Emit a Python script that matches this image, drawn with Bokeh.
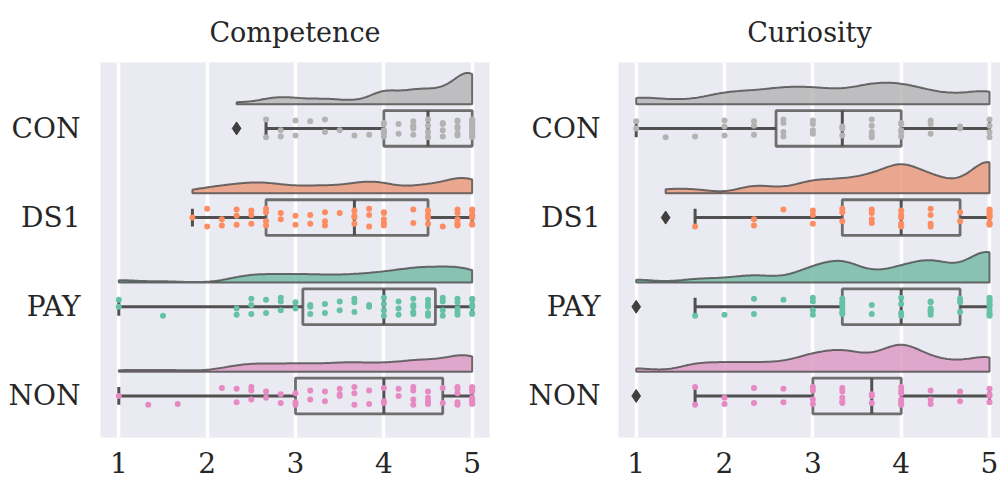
import numpy as np
from bokeh.plotting import figure
from bokeh.layouts import row
from bokeh.models import Range1d, FixedTicker
from bokeh.embed import file_html
from bokeh.resources import INLINE

# ---------------- data ----------------
groups = ["CON", "DS1", "PAY", "NON"]
x_ticks = [1, 2, 3, 4, 5]

# Competence: answer levels in steps of 1/6; counts of participants per level
competence_levels = [6/6, 7/6, 8/6, 9/6, 10/6, 11/6, 12/6, 13/6, 14/6, 15/6, 16/6, 17/6,
                     18/6, 19/6, 20/6, 21/6, 22/6, 23/6, 24/6, 25/6, 26/6, 27/6, 28/6, 29/6, 30/6]
competence_CON = [0, 0, 0, 0, 0, 0, 0, 0, 1, 0, 2, 2, 2, 1, 2, 1, 1, 1, 6, 2, 5, 4, 4, 6, 15]
competence_DS1 = [0, 0, 0, 0, 0, 1, 2, 2, 3, 3, 4, 2, 2, 2, 3, 1, 4, 3, 5, 0, 2, 4, 1, 6, 7]
competence_PAY = [2, 0, 0, 1, 0, 0, 0, 0, 2, 3, 2, 3, 2, 3, 2, 2, 3, 2, 4, 3, 5, 5, 4, 5, 6]
competence_NON = [1, 0, 1, 0, 1, 0, 0, 1, 2, 3, 2, 2, 3, 2, 2, 3, 3, 2, 3, 2, 4, 4, 2, 5, 9]

# Curiosity: answer levels in steps of 1/3; counts per level
curiosity_levels = [3/3, 4/3, 5/3, 6/3, 7/3, 8/3, 9/3, 10/3, 11/3, 12/3, 13/3, 14/3, 15/3]
curiosity_CON = [2, 1, 1, 3, 3, 4, 4, 3, 5, 5, 3, 2, 4]
curiosity_DS1 = [0, 1, 1, 0, 2, 1, 3, 3, 4, 7, 4, 2, 9]
curiosity_PAY = [1, 0, 1, 1, 2, 1, 4, 6, 2, 4, 6, 3, 10]
curiosity_NON = [1, 0, 2, 2, 2, 2, 4, 5, 3, 7, 3, 2, 4]

# ---------------- style ----------------
point_colors = {"CON": "#b3b3b3", "DS1": "#fc8d62", "PAY": "#66c2a5", "NON": "#e78ac3"}
cloud_colors = {"CON": "#b3b3b3", "DS1": "#e99675", "PAY": "#71b6a1", "NON": "#db96c0"}
FONT = "DejaVu Serif"
TEXT = "#262626"
BG = "#eaeaf2"
BOX_HALF = 0.2
CAP_HALF = 0.1
CLOUD_OFFSET = 0.272
CLOUD_MAX = 0.35
JITTER = [0.0, -0.08, 0.07, -0.03, 0.1, -0.1, 0.04, -0.06, 0.09, 0.02, -0.05, 0.06, -0.09, 0.08, -0.02]


def expand(levels, counts):
    return np.repeat(np.array(levels, dtype=float), counts)


def box_stats(v):
    q1, med, q3 = np.percentile(v, [25, 50, 75])
    iqr = q3 - q1
    lo_f, hi_f = q1 - 1.5 * iqr, q3 + 1.5 * iqr
    inside = v[(v > lo_f + 1e-9) & (v < hi_f - 1e-9)]
    out = v[(v <= lo_f + 1e-9) | (v >= hi_f - 1e-9)]
    return q1, med, q3, inside.min(), inside.max(), out


def kde(v, grid):
    h = 0.2 * np.std(v, ddof=1)
    z = (grid[:, None] - v[None, :]) / h
    return np.exp(-0.5 * z ** 2).sum(axis=1) / (len(v) * h * np.sqrt(2 * np.pi))


def make_panel(title, levels, counts_list, frame_w, border_left, border_right, xr,
               title_offset, label_standoff):
    p = figure(frame_width=frame_w, frame_height=375, output_backend="svg", toolbar_location=None,
               x_range=Range1d(*xr), y_range=Range1d(3.466, -0.739),
               min_border_left=border_left, min_border_right=border_right,
               min_border_top=62, min_border_bottom=47)
    p.title.text = title
    p.title.align = "center"
    p.title.text_font = FONT
    p.title.text_font_size = "27px"
    p.title.text_font_style = "normal"
    p.title.text_color = TEXT
    p.title.standoff = 29
    p.title.offset = title_offset
    p.background_fill_color = BG
    p.border_fill_color = "white"
    p.outline_line_color = None
    p.xgrid.grid_line_color = "white"
    p.xgrid.grid_line_width = 3.5
    p.ygrid.grid_line_color = None
    p.xaxis.ticker = FixedTicker(ticks=x_ticks)
    p.yaxis.ticker = FixedTicker(ticks=list(range(len(groups))))
    p.yaxis.major_label_overrides = {i: g for i, g in enumerate(groups)}
    for ax in (p.xaxis, p.yaxis):
        ax.axis_line_color = None
        ax.major_tick_line_color = None
        ax.minor_tick_line_color = None
        ax.major_tick_out = 0
        ax.major_tick_in = 0
        ax.minor_tick_out = 0
        ax.minor_tick_in = 0
        ax.major_label_text_font = FONT
        ax.major_label_text_font_size = "28px"
        ax.major_label_text_color = TEXT
    p.yaxis.major_label_standoff = label_standoff
    p.xaxis.major_label_standoff = 14

    data = [expand(levels, c) for c in counts_list]
    dens = []
    for v in data:
        grid = np.linspace(v.min(), v.max(), 200)
        dens.append((grid, kde(v, grid)))
    dmax = max(d.max() for _, d in dens)

    for i, (g, v) in enumerate(zip(groups, data)):
        grid, d = dens[i]
        hgt = d / dmax * CLOUD_MAX
        base = i - CLOUD_OFFSET
        xs = np.concatenate([grid, grid[::-1]])
        ys = np.concatenate([base - hgt, np.full_like(grid, base)])
        p.patch(xs, ys, fill_color=cloud_colors[g], fill_alpha=0.8,
                line_color="#4a4a4a", line_alpha=0.8, line_width=2)

        q1, med, q3, wlo, whi, out = box_stats(v)
        p.quad(left=[q1], right=[q3], top=[i - BOX_HALF], bottom=[i + BOX_HALF],
               fill_alpha=0, line_color="#6e6e6e", line_width=2.8)
        p.segment(x0=[wlo, q3], y0=[i, i], x1=[q1, whi], y1=[i, i],
                  line_color="#505050", line_width=3)
        p.segment(x0=[wlo, whi], y0=[i - CAP_HALF, i - CAP_HALF], x1=[wlo, whi],
                  y1=[i + CAP_HALF, i + CAP_HALF], line_color="#505050", line_width=3)
        p.segment(x0=[med], y0=[i - BOX_HALF], x1=[med], y1=[i + BOX_HALF],
                  line_color="#505050", line_width=3)

        # jittered strip of all answers
        px, py = [], []
        uniq = sorted(set(v.tolist()))
        for li, lv in enumerate(uniq):
            n = int((v == lv).sum())
            is_out = any(abs(lv - o) < 1e-9 for o in out)
            for k in range(n):
                j = 0.0 if is_out else JITTER[(k + 4 * li) % len(JITTER)]
                px.append(lv)
                py.append(i + j)
        p.scatter(px, py, size=6, fill_color=point_colors[g], line_color=None)
        if len(out):
            p.scatter(list(out), [i] * len(out), marker="diamond", size=13,
                      fill_color="#3f3f3f", line_color="#3f3f3f")
    return p


left = make_panel("Competence", competence_levels,
                  [competence_CON, competence_DS1, competence_PAY, competence_NON],
                  389, 100, 35, (0.7929, 5.1958), 0, 20)
right = make_panel("Curiosity", curiosity_levels,
                   [curiosity_CON, curiosity_DS1, curiosity_PAY, curiosity_NON],
                   382, 94, 0, (0.7996, 5.1243), 4, 18)

layout = row(left, right)
open("out.html", "w").write(file_html(layout, INLINE))
